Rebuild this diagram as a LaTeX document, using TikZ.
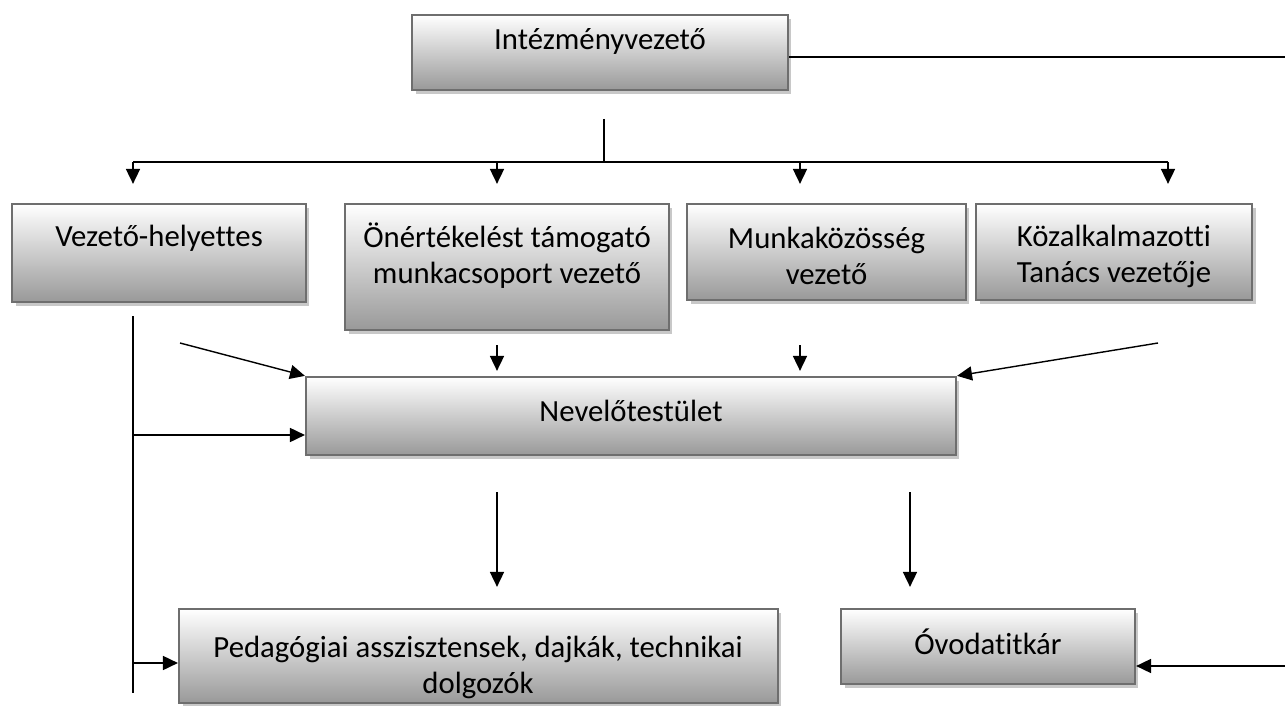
\documentclass[tikz,border=0pt]{standalone}
\usepackage{fontspec}
\setmainfont{Carlito}[Ligatures=NoCommon]
\usepackage{tikz}
\usetikzlibrary{arrows.meta,shadows}
\definecolor{boxline}{HTML}{6E6E6E}
\definecolor{boxshade}{HTML}{999999}
\definecolor{boxshadow}{HTML}{C8C8C8}

\begin{document}
\begin{tikzpicture}[x=0.02cm, y=-0.02cm,
    every node/.style={font=\fontsize{17.5}{20.5}\selectfont},
    box/.style={draw=boxline, line width=1.3pt, rectangle, inner sep=0pt,
        top color=white, bottom color=boxshade,
        drop shadow={shadow xshift=2pt, shadow yshift=-2pt, fill=boxshadow, opacity=1}},
    lbl/.style={align=center, inner sep=0pt},
    arr/.style={-{Triangle[width=8pt,length=8.5pt]}, line width=0.8pt},
    ln/.style={line width=0.8pt}]
    \useasboundingbox (0,0) rectangle (1285,706);

    % Top
    \node[box, minimum width=7.52cm, minimum height=1.5cm] (iv) at (600,52.5) {};
    \node[lbl] (ivText) at (600,41) {Intézményvezető};

    % Second row
    \node[box, minimum width=5.88cm, minimum height=1.96cm] (vh) at (159,253) {};
    \node[lbl] (vhText) at (159,238) {Vezető-helyettes};
    \node[box, minimum width=6.48cm, minimum height=2.52cm] (on) at (507,267) {};
    \node[lbl] (onText) at (507,256) {Önértékelést támogató\\munkacsoport vezető};
    \node[box, minimum width=5.58cm, minimum height=1.92cm] (mk) at (826.5,252) {};
    \node[lbl] (mkText) at (826.5,256) {Munkaközösség\\vezető};
    \node[box, minimum width=5.52cm, minimum height=1.92cm] (kt) at (1114,252) {};
    \node[lbl] (ktText) at (1114,256) {Közalkalmazotti\\Tanács vezetője};

    % Staff
    \node[box, minimum width=13cm, minimum height=1.56cm] (nev) at (631,416) {};
    \node[lbl] (nevText) at (631,411) {Nevelőtestület};

    % Bottom row
    \node[box, minimum width=11.98cm, minimum height=1.88cm] (ped) at (478.5,656) {};
    \node[lbl] (pedText) at (478,667) {Pedagógiai asszisztensek, dajkák, technikai\\dolgozók};
    \node[box, minimum width=5.88cm, minimum height=1.5cm] (ov) at (988,646.5) {};
    \node[lbl] (ovText) at (988,642) {Óvodatitkár};

    % Lines from the head
    \coordinate (edgeTop) at (1285,57);
    \draw[ln] (iv.east |- edgeTop) -- (edgeTop);
    \coordinate (stemTop) at (604,119);
    \coordinate (stemBot) at (604,162);
    \draw[ln] (stemTop) -- (stemBot);
    \draw[ln] (133,162) -- (1168,162);
    \foreach \b/\x in {vh/133, on/497, mk/800, kt/1168}
        \draw[arr, shorten >=0.38cm] (\x,162) -- (\x,162 |- \b.north);

    % Into the staff
    \coordinate (vhIn) at (180,343);
    \coordinate (ktIn) at (1158,343);
    \draw[arr] (vhIn) -- (nev.north west);
    \draw[arr] (ktIn) -- (nev.north east);
    \coordinate (onIn) at (497,345);
    \coordinate (mkIn) at (800,345);
    \draw[arr, shorten >=0.1cm] (onIn) -- (onIn |- nev.north);
    \draw[arr, shorten >=0.1cm] (mkIn) -- (mkIn |- nev.north);

    % Deputy line
    \coordinate (spTop) at (133,316);
    \coordinate (spBot) at (133,693);
    \draw[ln] (spTop) -- (spBot);
    \draw[arr] (133,435) -- (133,435 -| nev.west);
    \draw[arr] (133,663) -- (133,663 -| ped.west);

    % Down from the staff
    \coordinate (nevOutL) at (497,492);
    \coordinate (nevOutR) at (910,492);
    \draw[arr, shorten >=0.42cm] (nevOutL) -- (nevOutL |- ped.north);
    \draw[arr, shorten >=0.42cm] (nevOutR) -- (nevOutR |- ov.north);

    % Secretary
    \coordinate (edgeBot) at (1285,666);
    \draw[arr] (edgeBot) -- (edgeBot -| ov.east);
\end{tikzpicture}
\end{document}
